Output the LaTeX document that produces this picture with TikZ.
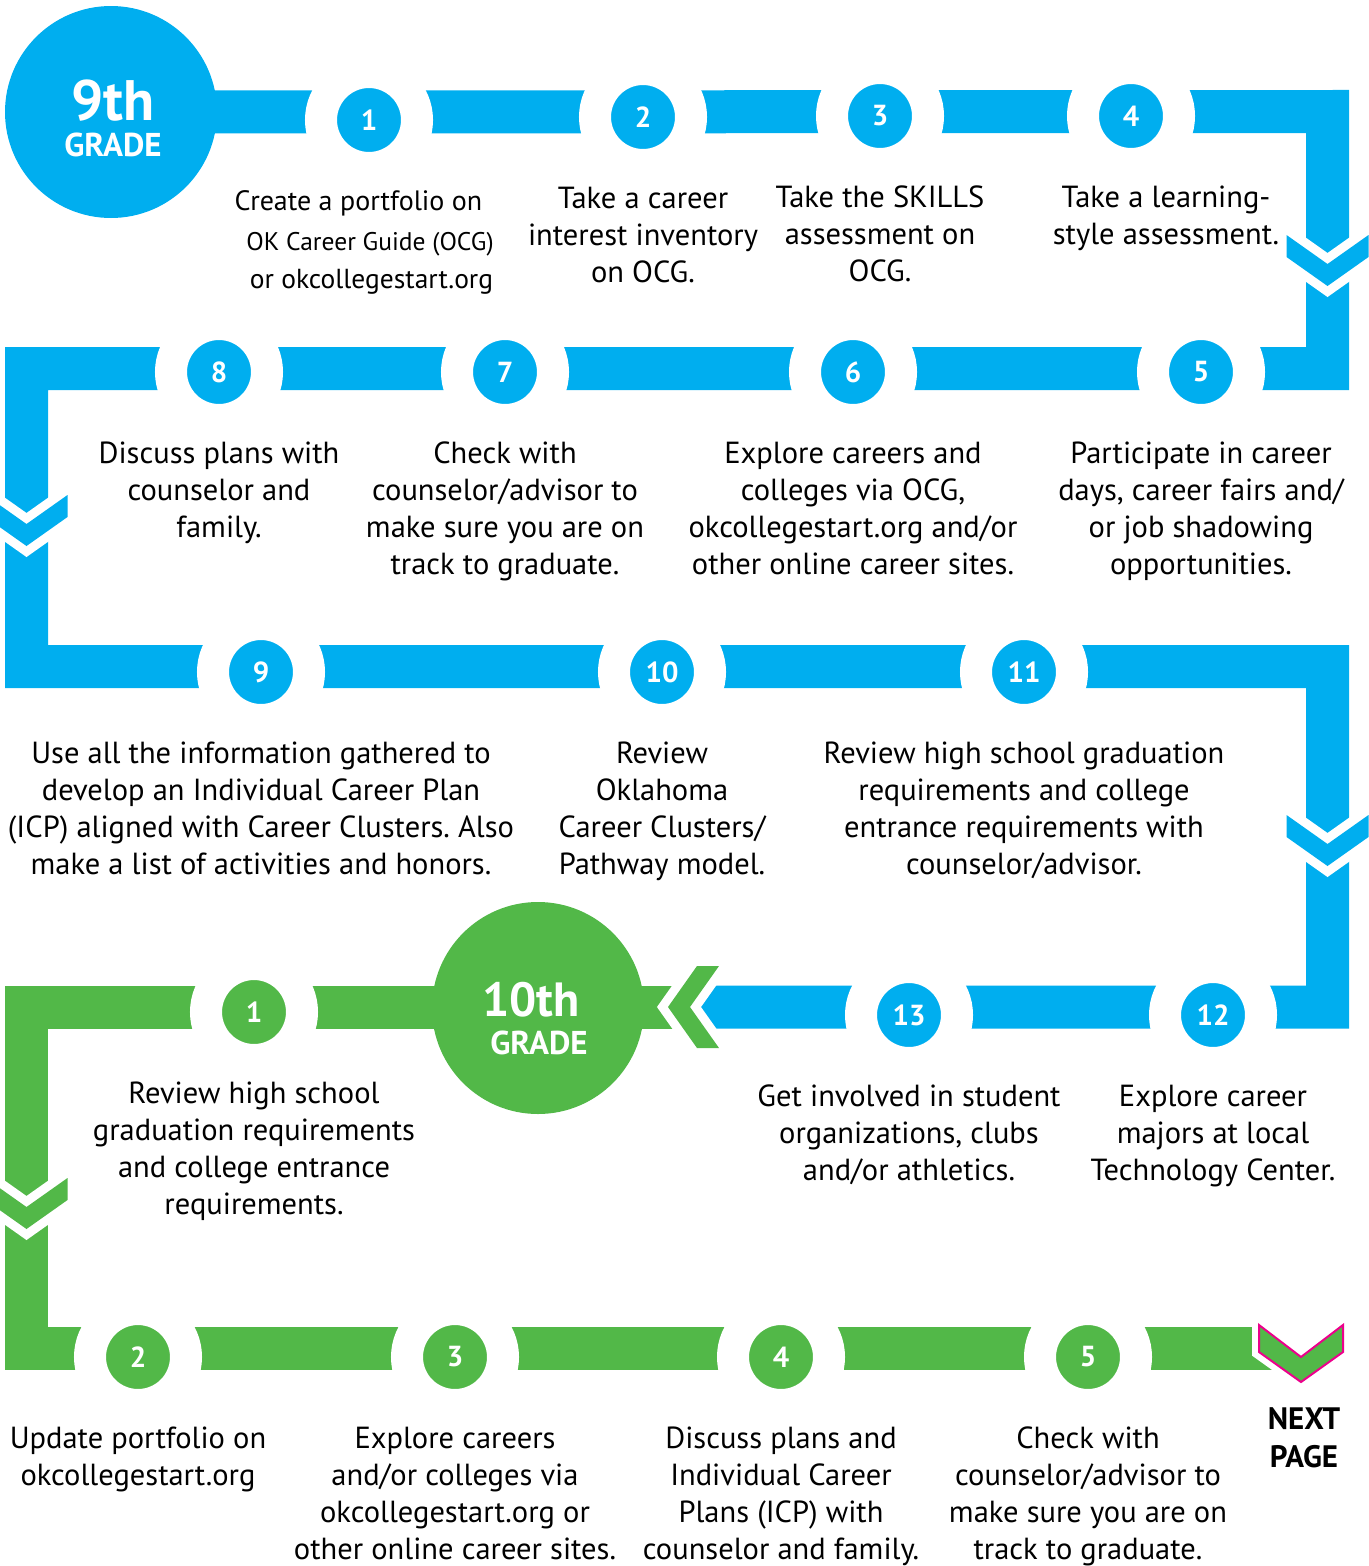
\documentclass[tikz,border=0pt]{standalone}
\usepackage{fontspec}
\setmainfont{PT Sans}
\usetikzlibrary{positioning}
\definecolor{ocblue}{RGB}{0,174,239}
\definecolor{ocgreen}{RGB}{82,184,72}
\definecolor{ocpink}{RGB}{236,0,140}
\frenchspacing
\begin{document}
\begin{tikzpicture}[x=1pt,y=-1pt,
    band/.style={draw=#1,line width=43pt,line join=miter},
    dot/.style={circle,minimum size=96pt,inner sep=0pt,outer sep=0pt,fill=#1,draw=white,line width=32pt,
      text=white,font=\bfseries\fontsize{29}{29}\selectfont},
    gradedot/.style={circle,minimum size=212pt,inner sep=0pt,fill=#1},
    gradetext/.style={text=white,inner sep=0pt,anchor=base,font=\bfseries\fontsize{#1}{#1}\selectfont},
    note/.style={align=center,inner sep=0pt,font=\fontsize{30.5}{37}\selectfont},
    halo/.style={draw=white,line width=18pt,line join=miter}]
\useasboundingbox (0,0) rectangle (1368,1566);
% route corners
\coordinate (o9) at (111,112);\coordinate (o10) at (538,1008);
\coordinate (r1) at (1327.5,111.5);\coordinate (r2) at (1327.5,368.5);
\coordinate (l2) at (26.5,368.5);\coordinate (l3) at (26.5,666.5);
\coordinate (r3) at (1327.5,666.5);\coordinate (r4) at (1327.5,1007);
\coordinate (m4) at (700,1007);\coordinate (l4) at (26.5,1007);
\coordinate (l5) at (26.5,1348.5);\coordinate (e5) at (1252,1348.5);
\draw[band=ocblue](o9)--(r1)--(r2)--(l2)--(l3)--(r3)--(r4)--(m4);
\draw[band=ocgreen](m4)--(l4)--(l5)--(e5);
\fill[ocgreen](1252,1352)rectangle(1282,1370);
% chevrons
\foreach \x/\y/\c in{1327.5/235/ocblue,26.5/495/ocblue,1327.5/815/ocblue,26.5/1178/ocgreen}
    \path[fill=\c,preaction={halo},shift={(\x,\y)}](-41,0)--(0,29)--(41,0)--(41,22)--(0,51)--(-41,22)--cycle;
\path[fill=ocgreen,preaction={halo},shift={(719,1007)}](0,-41)--(-29,0)--(0,41)--(-22,41)--(-51,0)--(-22,-41)--cycle;
\path[fill=ocgreen,draw=ocpink,line width=2pt,preaction={draw=white,line width=14pt,line join=miter},shift={(1301,1325)}]
    (-42,0)--(0,32)--(42,0)--(42,27)--(0,57)--(-42,27)--cycle;
% step dots
\foreach \n/\x/\y in{1/369/120,2/643/117,3/880/116,4/1131/116,5/1201/372,6/853/372,7/505/372,8/219/372,
    9/261/672,10/662/672,11/1024/672,12/1213/1015,13/909/1015}
    \node[dot=ocblue](b\n)at(\x,\y){\n};
\foreach \n/\x/\y in{1/254/1012,2/138/1357,3/455/1357,4/781/1357,5/1088/1357}
    \node[dot=ocgreen](g\n)at(\x,\y){\n};
% grade circles
\node[gradedot=ocblue](nine)at(o9){};
\node[gradetext=57](nine-a)at(113,120){9th};
\node[gradetext=33](nine-b)at(113,156){GRADE};
\node[gradedot=ocgreen](ten)at(o10){};
\node[gradetext=48](ten-a)at(531,1016){10th};
\node[gradetext=33](ten-b)at(539,1054){GRADE};
% 9th grade steps
\node[note,below=22pt of b1,xshift=-10.5pt](t1){\fontsize{28}{28}\selectfont Create a portfolio on\\[3pt]
    \fontsize{25.5}{25.5}\selectfont\hspace*{23pt}OK Career Guide (OCG)\\[1pt]\fontsize{27.5}{27.5}\selectfont\hspace*{26pt}or okcollegestart.org};
\node[note,below=22pt of b2](t2){Take a career\\interest inventory\\on OCG.};
\node[note,below=22pt of b3](t3){Take the SKILLS\\assessment on\\OCG.};
\node[note,below=22pt of b4,xshift=35pt](t4){Take a learning-\\style assessment.};
\node[note,below=22pt of b5](t5){Participate in career\\days, career fairs and/\\or job shadowing\\opportunities.};
\node[note,below=22pt of b6](t6){Explore careers and\\colleges via OCG,\\okcollegestart.org and/or\\other online career sites.};
\node[note,below=22pt of b7](t7){Check with\\counselor/advisor to\\make sure you are on\\track to graduate.};
\node[note,below=22pt of b8](t8){Discuss plans with\\counselor and\\family.};
\node[note,below=22pt of b9](t9){Use all the information gathered to\\develop an Individual Career Plan\\(ICP) aligned with Career Clusters. Also\\make a list of activities and honors.};
\node[note,below=22pt of b10](t10){Review\\Oklahoma\\Career Clusters/\\Pathway model.};
\node[note,below=22pt of b11](t11){Review high school graduation\\requirements and college\\entrance requirements with\\counselor/advisor.};
\node[note,below=22pt of b12](t12){Explore career\\majors at local\\Technology Center.};
\node[note,below=22pt of b13](t13){Get involved in student\\organizations, clubs\\and/or athletics.};
% 10th grade steps
\node[note,below=22pt of g1](u1){Review high school\\graduation requirements\\and college entrance\\requirements.};
\node[note,below=22pt of g2](u2){Update portfolio on\\okcollegestart.org};
\node[note,below=22pt of g3](u3){Explore careers\\and/or colleges via\\okcollegestart.org or\\other online career sites.};
\node[note,below=22pt of g4](u4){Discuss plans and\\Individual Career\\Plans (ICP) with\\counselor and family.};
\node[note,below=22pt of g5](u5){Check with\\counselor/advisor to\\make sure you are on\\track to graduate.};
\node[note,font=\bfseries\fontsize{31}{38}\selectfont,anchor=base](next)at(1304,1467){NEXT\\PAGE};
\end{tikzpicture}
\end{document}
